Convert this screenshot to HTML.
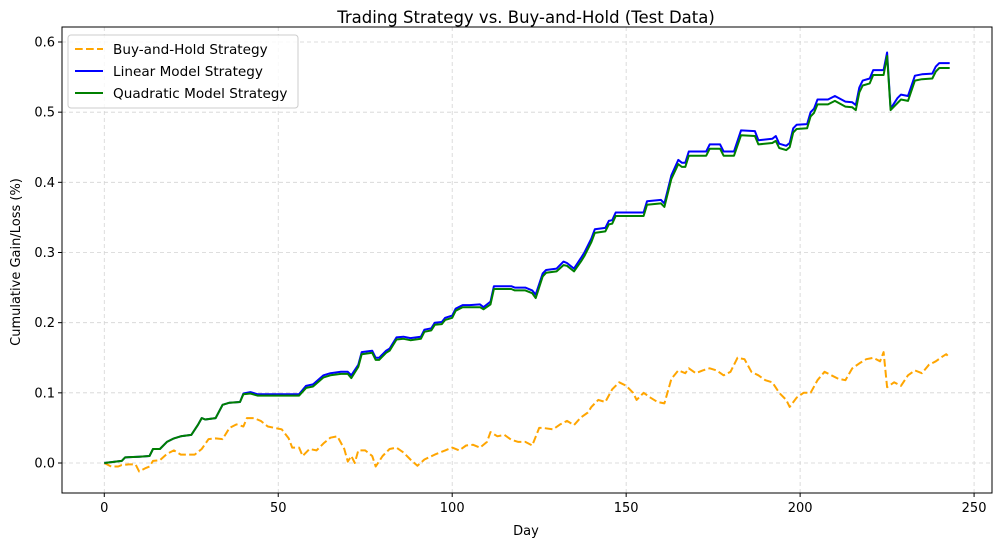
<!DOCTYPE html>
<html><head><meta charset="utf-8"><style>
body{margin:0;background:#fff;}
svg text{font-family:"DejaVu Sans","Liberation Sans",sans-serif;}
</style></head><body>
<svg id="chart" width="1001" height="547" viewBox="0 0 1001 547" xmlns="http://www.w3.org/2000/svg">
<rect x="0" y="0" width="1001" height="547" fill="#fff"/>
<g id="grid"></g>
<g id="series"></g>
<rect x="62" y="27" width="930" height="466" fill="none" stroke="#000" stroke-width="1"/>
<g id="axes"></g>
<text x="526" y="23" text-anchor="middle" font-size="16.5">Trading Strategy vs. Buy-and-Hold (Test Data)</text>
<text x="526" y="535" text-anchor="middle" font-size="13">Day</text>
<text transform="translate(20,262) rotate(-90)" text-anchor="middle" font-size="13">Cumulative Gain/Loss (%)</text>
<g>
<rect x="68" y="35" width="230" height="73" rx="3" fill="#fff" fill-opacity="0.8" stroke="#ccc"/>
<g><line x1="75" y1="49" x2="103" y2="49" stroke="orange" stroke-width="2" stroke-dasharray="7.7,3.3"/><text x="113" y="54" font-size="13.6">Buy-and-Hold Strategy</text></g>
<g><line x1="75" y1="71" x2="103" y2="71" stroke="blue" stroke-width="2"/><text x="113" y="76" font-size="13.6">Linear Model Strategy</text></g>
<g><line x1="75" y1="93" x2="103" y2="93" stroke="green" stroke-width="2"/><text x="113" y="98" font-size="13.6">Quadratic Model Strategy</text></g>
</g>
</svg>
<script>
const xTicks=[0,50,100,150,200,250];
const yTicks=[0,0.1,0.2,0.3,0.4,0.5,0.6];
const yTickLabels=["0.0","0.1","0.2","0.3","0.4","0.5","0.6"];
const modelDays=[0,5,6,10,13,14,16,18,20,22,25,27,28,29,32,34,36,39,40,42,44,50,56,58,60,63,65,68,70,71,73,74,77,78,79,81,82,84,86,88,91,92,94,95,97,98,100,101,103,105,108,109,111,112,117,118,121,123,124,126,127,130,132,133,135,137,138,140,141,144,145,146,147,155,156,160,161,163,165,166,167,168,173,174,177,178,181,183,187,188,192,193,194,196,197,198,199,202,203,204,205,208,210,213,215,216,217,218,220,221,224,225,226,228,229,231,233,235,238,239,240,243];
const linearVals=[0,0.003,0.008,0.009,0.010,0.02,0.02,0.03,0.035,0.038,0.04,0.055,0.064,0.062,0.064,0.083,0.086,0.087,0.099,0.101,0.098,0.098,0.098,0.11,0.112,0.125,0.128,0.13,0.13,0.125,0.14,0.158,0.16,0.15,0.15,0.16,0.163,0.179,0.18,0.178,0.18,0.19,0.192,0.2,0.201,0.207,0.21,0.22,0.225,0.225,0.226,0.222,0.23,0.252,0.252,0.25,0.25,0.246,0.24,0.27,0.275,0.277,0.287,0.285,0.277,0.292,0.3,0.32,0.333,0.335,0.345,0.346,0.357,0.357,0.373,0.375,0.37,0.41,0.432,0.428,0.428,0.444,0.444,0.454,0.454,0.444,0.444,0.474,0.473,0.46,0.462,0.466,0.455,0.452,0.456,0.477,0.482,0.483,0.5,0.505,0.518,0.518,0.523,0.515,0.514,0.51,0.535,0.545,0.548,0.56,0.56,0.585,0.505,0.52,0.525,0.523,0.552,0.554,0.555,0.565,0.57,0.57];
const quadVals=[0,0.003,0.008,0.009,0.010,0.02,0.02,0.03,0.035,0.038,0.04,0.055,0.064,0.062,0.064,0.083,0.086,0.087,0.098,0.099,0.096,0.096,0.096,0.107,0.109,0.122,0.125,0.127,0.127,0.121,0.137,0.155,0.157,0.147,0.147,0.157,0.16,0.176,0.177,0.175,0.177,0.187,0.189,0.197,0.198,0.204,0.207,0.217,0.222,0.222,0.222,0.219,0.226,0.248,0.248,0.246,0.246,0.242,0.235,0.266,0.271,0.273,0.282,0.281,0.273,0.287,0.295,0.315,0.328,0.33,0.34,0.341,0.352,0.352,0.368,0.37,0.365,0.405,0.426,0.422,0.422,0.438,0.438,0.448,0.448,0.438,0.438,0.467,0.466,0.454,0.456,0.459,0.449,0.446,0.45,0.471,0.476,0.477,0.494,0.499,0.511,0.511,0.516,0.508,0.507,0.503,0.528,0.538,0.541,0.553,0.553,0.58,0.503,0.513,0.518,0.516,0.545,0.547,0.548,0.558,0.563,0.563];
const bhDays=[0,2,4,5,7,9,10,12,13,14,16,18,20,22,26,28,30,32,34,36,38,40,41,43,45,47,51,53,54,56,57,59,61,63,65,67,69,70,71,72,73,75,77,78,80,82,84,86,88,90,92,95,98,100,102,104,106,108,110,111,113,115,117,119,121,123,125,126,129,131,133,135,137,139,140,142,144,146,148,150,152,153,155,157,159,161,163,165,167,168,170,172,174,176,178,180,182,184,186,188,190,192,194,196,197,199,201,203,205,207,209,211,213,215,217,219,221,223,224,225,227,229,231,233,235,237,239,241,242,243];
const bhVals=[0,-0.005,-0.005,-0.003,-0.002,-0.002,-0.012,-0.007,-0.005,0.003,0.004,0.013,0.018,0.012,0.012,0.02,0.034,0.035,0.034,0.05,0.055,0.052,0.064,0.064,0.06,0.052,0.048,0.035,0.022,0.022,0.01,0.02,0.018,0.028,0.036,0.038,0.02,0.002,0.01,0,0.018,0.018,0.01,-0.005,0.01,0.02,0.022,0.015,0.005,-0.004,0.005,0.012,0.018,0.022,0.018,0.025,0.026,0.022,0.03,0.044,0.038,0.04,0.033,0.03,0.03,0.025,0.05,0.05,0.048,0.055,0.06,0.054,0.065,0.072,0.08,0.09,0.087,0.105,0.115,0.11,0.1,0.09,0.1,0.093,0.087,0.085,0.12,0.132,0.128,0.135,0.128,0.132,0.135,0.132,0.125,0.13,0.15,0.148,0.13,0.125,0.118,0.115,0.1,0.09,0.08,0.093,0.1,0.1,0.118,0.13,0.125,0.12,0.118,0.135,0.142,0.148,0.15,0.145,0.158,0.108,0.115,0.11,0.125,0.132,0.128,0.14,0.145,0.152,0.155,0.15];

const NS="http://www.w3.org/2000/svg";
const X0=62,X1=992,XMIN=-12.15,XMAX=255.15;
function xs(d){return X0+(d-XMIN)/(XMAX-XMIN)*(X1-X0);}
function ys(v){return 463-v*(421/0.6);}
const grid=document.getElementById('grid'),axes=document.getElementById('axes'),ser=document.getElementById('series');
function mk(tag,attrs,parent){const e=document.createElementNS(NS,tag);for(const k in attrs)e.setAttribute(k,attrs[k]);parent.appendChild(e);return e;}
xTicks.forEach(t=>{const x=xs(t);
 const g=mk('line',{x1:x,x2:x,y1:27,y2:493,stroke:'#d3d3d3','stroke-dasharray':'4,3','stroke-width':0.8},grid);
 
 
 const tk=mk('line',{x1:x,x2:x,y1:493,y2:497,stroke:'#000'},axes);
 
 
 const tx=mk('text',{x:x,y:512,'text-anchor':'middle','font-size':13},axes);tx.textContent=String(t);
 
 
});
yTicks.forEach((t,i)=>{const y=ys(t);
 const g=mk('line',{x1:62,x2:992,y1:y,y2:y,stroke:'#d3d3d3','stroke-dasharray':'4,3','stroke-width':0.8},grid);
 
 
 const tk=mk('line',{x1:58,x2:62,y1:y,y2:y,stroke:'#000'},axes);
 
 
 const tx=mk('text',{x:55,y:y+4.5,'text-anchor':'end','font-size':13},axes);tx.textContent=yTickLabels[i];
 
 
});
function pts(days,vals){return days.map((d,i)=>xs(d).toFixed(1)+','+ys(vals[i]).toFixed(1)).join(' ');}
const l1=mk('polyline',{points:pts(bhDays,bhVals),fill:'none',stroke:'orange','stroke-width':2,'stroke-dasharray':'7.7,3.3','stroke-linejoin':'round'},ser);


const l2=mk('polyline',{points:pts(modelDays,linearVals),fill:'none',stroke:'blue','stroke-width':2,'stroke-linejoin':'round'},ser);


const l3=mk('polyline',{points:pts(modelDays,quadVals),fill:'none',stroke:'green','stroke-width':2,'stroke-linejoin':'round'},ser);


</script>
</body></html>
